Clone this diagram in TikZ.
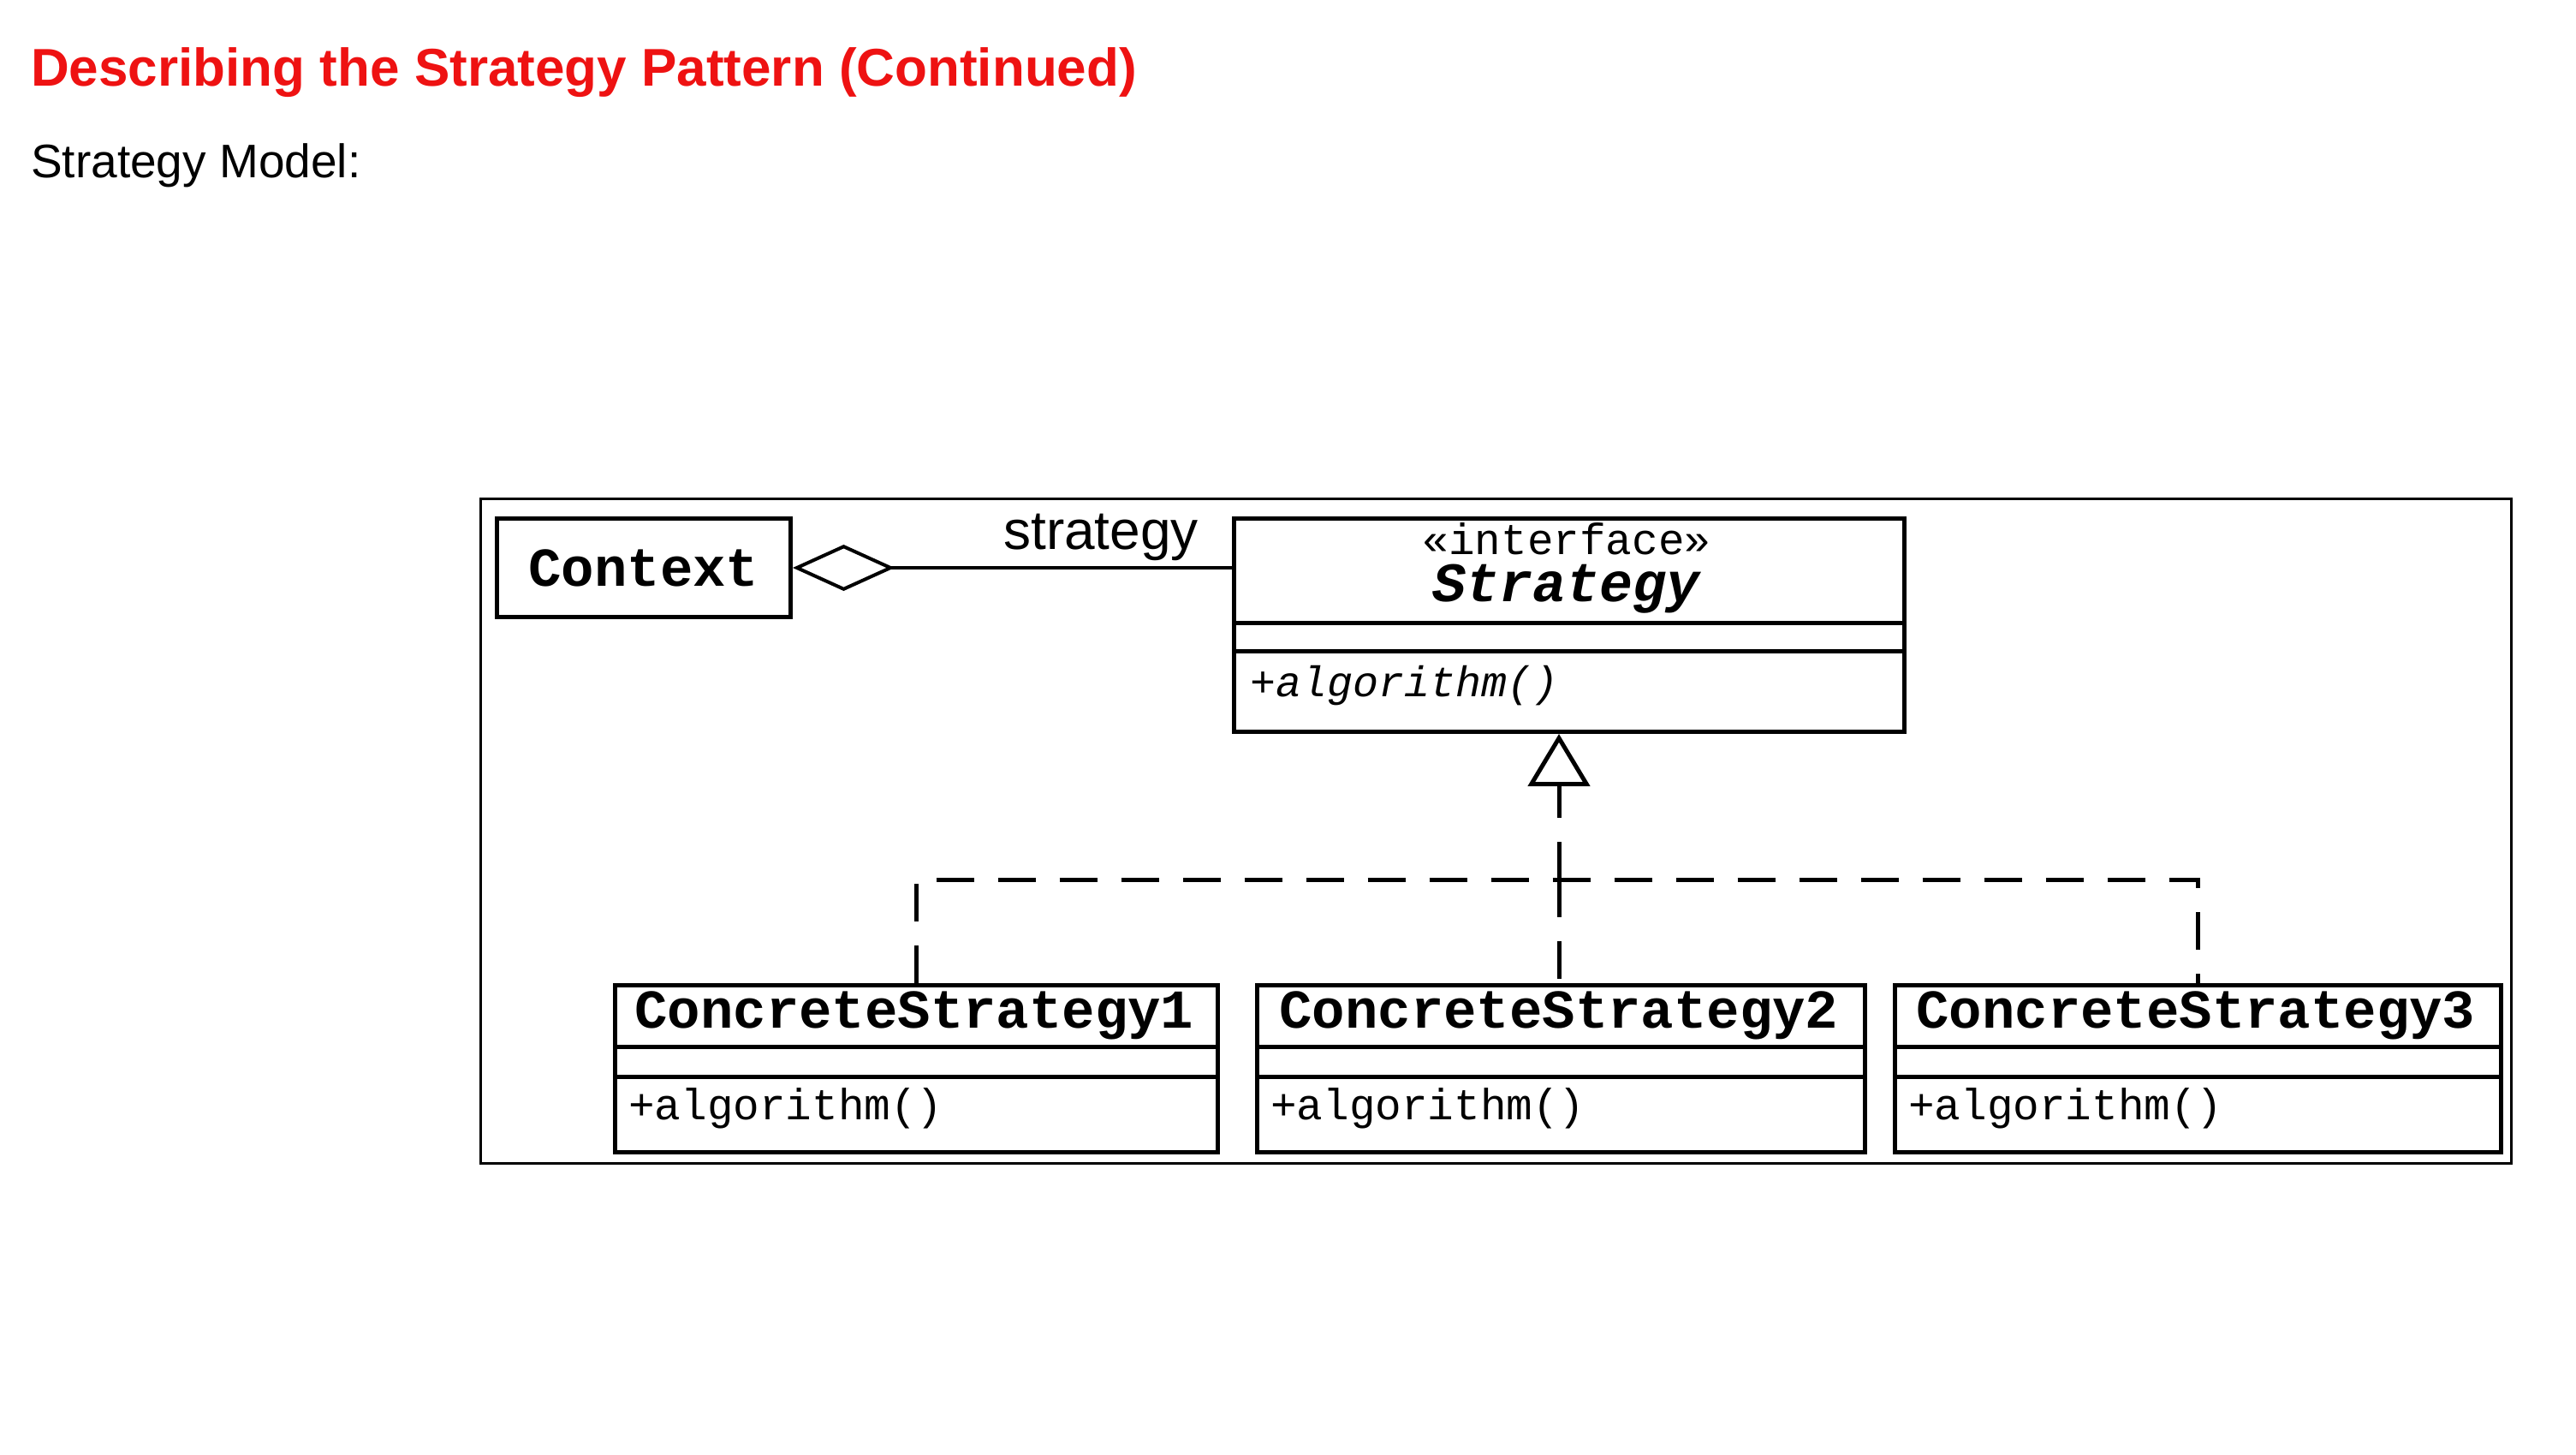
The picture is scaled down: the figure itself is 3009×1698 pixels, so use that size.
\documentclass[tikz,border=0pt]{standalone}
\usepackage{fontspec}
\setmainfont{Liberation Sans}
\newfontfamily\umlmono{Liberation Mono}
\usetikzlibrary{arrows.meta}
\definecolor{titlered}{RGB}{238,18,18}
\begin{document}
\begin{tikzpicture}[x=1pt,y=-1pt,
  box/.style={draw, line width=5pt, rectangle, inner sep=0pt, anchor=north west},
  sepline/.style={line width=5pt},
  dashline/.style={line width=5pt, dash pattern=on 44pt off 28pt},
  clsname/.style={font=\umlmono\bfseries\fontsize{64}{64}\selectfont, anchor=base, inner sep=0pt},
  opname/.style={font=\umlmono\fontsize{51}{51}\selectfont, anchor=base west, inner sep=0pt},
]
\useasboundingbox (0,0) rectangle (3009,1698);

% headings
\node[anchor=base west, inner sep=0pt, font=\bfseries\fontsize{62}{62}\selectfont, text=titlered] (title) at (36,100) {Describing the Strategy Pattern (Continued)};
\node[anchor=base west, inner sep=0pt, font=\fontsize{55}{55}\selectfont] (model) at (36,207) {Strategy Model:};

% frame
\node[draw, line width=3pt, minimum width=2372pt, minimum height=776pt, anchor=north west, inner sep=0pt] (frame) at (560,581) {};

% Context
\node[box, minimum width=343pt, minimum height=115pt, font=\umlmono\bfseries\fontsize{64}{64}\selectfont] (context) at (578,603) {Context};

% Strategy interface
\node[box, minimum width=783pt, minimum height=249pt] (strat) at (1439,603) {};
\draw[sepline] (1439,727) -- (2222,727);
\draw[sepline] (1439,760) -- (2222,760);
\node[anchor=base, inner sep=0pt, font=\umlmono\fontsize{51}{51}\selectfont] (stereo) at (1830,647) {«interface»};
\node[anchor=base, inner sep=0pt, font=\umlmono\bfseries\itshape\fontsize{65}{65}\selectfont] (stratname) at (1830,702) {Strategy};
\node[anchor=base west, inner sep=0pt, font=\umlmono\itshape\fontsize{50}{50}\selectfont] (stratop) at (1460,813) {+algorithm()};

% concrete strategies
\node[box, minimum width=704pt, minimum height=195pt] (cs1) at (716,1148) {};
\draw[sepline] (716,1222) -- (1420,1222);
\draw[sepline] (716,1257) -- (1420,1257);
\node[clsname] (cs1name) at (1068,1200) {ConcreteStrategy1};
\node[opname] (cs1op) at (734,1307) {+algorithm()};

\node[box, minimum width=710pt, minimum height=195pt] (cs2) at (1466,1148) {};
\draw[sepline] (1466,1222) -- (2176,1222);
\draw[sepline] (1466,1257) -- (2176,1257);
\node[clsname] (cs2name) at (1821,1200) {ConcreteStrategy2};
\node[opname] (cs2op) at (1484,1307) {+algorithm()};

\node[box, minimum width=708pt, minimum height=195pt] (cs3) at (2211,1148) {};
\draw[sepline] (2211,1222) -- (2919,1222);
\draw[sepline] (2211,1257) -- (2919,1257);
\node[clsname] (cs3name) at (2565,1200) {ConcreteStrategy3};
\node[opname] (cs3op) at (2229,1307) {+algorithm()};

% role label
\node[anchor=base west, inner sep=0pt, font=\fontsize{64}{64}\selectfont] (rolelbl) at (1172,641) {strategy};

% aggregation
\draw[line width=4pt, {Diamond[open,length=119pt,width=54pt]}-] (context.east) -- (strat.west |- context.east);

% realization
\coordinate (junction) at (1821,1027);
\draw[dashline] (cs1.north) |- (junction) -| (cs3.north);
\draw[dashline] (junction) -- (junction |- cs2.north);
\draw[dashline, -{Triangle[open,length=61pt,width=72pt]}] (junction) -- (junction |- strat.south);
\end{tikzpicture}
\end{document}
